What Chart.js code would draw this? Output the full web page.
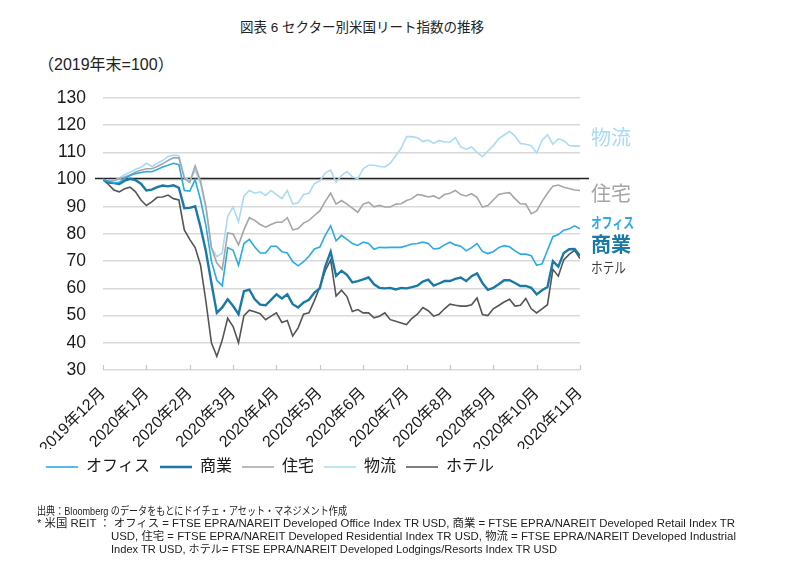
<!DOCTYPE html>
<html>
<head>
<meta charset="utf-8">
<script src="https://cdn.jsdelivr.net/npm/chart.js@4/dist/chart.umd.min.js"></script>
<style>
  html, body { margin: 0; padding: 0; background: #ffffff; }
  body { width: 800px; height: 578px; position: relative; overflow: hidden;
         font-family: "Liberation Sans", "Noto Sans CJK JP", sans-serif; color: #1a1a1a; }
  #c { position: absolute; left: 0; top: 0; }
  .txt { position: absolute; white-space: nowrap; }
  #title { left: 240px; top: 20px; font-size: 13.5px; line-height: 16px; color: #222; }
  #unit { left: 38px; top: 56px; font-size: 16px; line-height: 18px; color: #222; }
  .fn { font-family: "Liberation Sans Narrow", "Liberation Sans", "Noto Sans CJK JP", sans-serif;
        font-size: 11px; line-height: 13px; color: #222; transform-origin: 0 50%; }
</style>
</head>
<body>
<div id="title" class="txt">図表 6 セクター別米国リート指数の推移</div>
<div id="unit" class="txt">（2019年末=100）</div>
<canvas id="c" width="800" height="578"></canvas>
<div class="txt fn" data-w="310" style="left:37px; top:505px;">出典：Bloomberg のデータをもとにドイチェ・アセット・マネジメント作成</div>
<div class="txt fn" data-w="698" style="left:37px; top:517px;">* 米国 REIT ： オフィス = FTSE EPRA/NAREIT Developed Office Index TR USD, 商業 = FTSE EPRA/NAREIT Developed Retail Index TR</div>
<div class="txt fn" data-w="625" style="left:111px; top:530px;">USD, 住宅 = FTSE EPRA/NAREIT Developed Residential Index TR USD, 物流 = FTSE EPRA/NAREIT Developed Industrial</div>
<div class="txt fn" data-w="446" style="left:111px; top:543px;">Index TR USD, ホテル= FTSE EPRA/NAREIT Developed Lodgings/Resorts Index TR USD</div>
<script>
// ---- data (8 samples per month, 2019年12月末 = 100) ----
const monthLabels = ['2019年12月','2020年1月','2020年2月','2020年3月','2020年4月','2020年5月',
                     '2020年6月','2020年7月','2020年8月','2020年9月','2020年10月','2020年11月'];
const seriesNames = ['オフィス','商業','住宅','物流','ホテル'];

const office = [100,99.4,98.8,99.0,100.4,101.5,102.2,102.6,103.0,102.9,
  103.7,104.6,105.3,106.0,105.5,96.0,95.8,100.0,92.5,83.0,
  70.0,63.0,61.0,75.0,74.0,68.5,76.5,78.0,75.2,73.0,
  73.0,75.5,75.5,73.5,73.0,69.8,68.3,69.8,71.8,74.5,
  75.2,79.5,83.0,77.5,79.5,78.0,76.5,75.8,77.0,76.5,
  74.4,75.1,75.0,75.1,75.1,75.1,75.7,76.3,76.5,77.0,
  76.5,74.5,74.7,76.0,77.0,76.0,75.5,73.8,75.0,76.5,
  73.6,72.8,73.5,75.0,75.7,75.3,73.8,72.6,72.6,72.0,
  68.5,69.0,74.0,79.0,79.8,81.4,81.9,83.0,81.9];

const retail = [100,98.9,98.7,98.4,99.6,100.3,99.8,98.5,96.0,96.3,
  97.2,97.8,97.5,97.9,97.0,89.5,89.6,90.2,82.5,73.5,
  62.0,51.0,53.0,56.0,53.5,50.5,59.0,59.5,56.0,54.0,
  53.8,55.8,57.8,56.3,57.8,54.2,53.0,54.8,55.8,58.5,
  60.0,68.0,73.5,64.6,66.5,65.0,62.2,62.7,63.3,64.0,
  61.5,60.2,60.0,60.2,59.6,60.2,60.0,60.5,61.0,62.5,
  63.2,61.0,61.8,62.7,62.7,63.5,64.0,62.7,64.5,65.5,
  62.0,59.5,60.2,61.5,63.0,63.0,62.0,60.9,60.9,60.2,
  57.8,59.3,60.5,70.0,68.0,73.0,74.4,74.5,72.0];

const residential = [100,99.5,99.6,100.3,101.0,101.7,102.8,103.4,104.0,104.0,
  104.8,105.8,107.0,108.0,108.0,100.5,99.0,105.0,99.5,90.0,
  75.0,69.3,67.0,80.4,80.0,76.0,81.5,86.0,85.0,83.5,
  82.5,83.5,84.3,84.3,86.0,81.5,82.0,84.0,85.0,86.8,
  88.5,92.0,95.0,91.0,92.3,91.0,89.5,88.0,91.0,91.7,
  90.0,90.5,89.9,89.9,91.0,91.1,92.3,93.0,94.5,94.2,
  93.6,94.0,93.0,94.5,95.0,96.0,94.5,94.0,94.8,93.5,
  89.9,90.5,92.5,94.5,95.0,95.2,93.0,91.1,91.0,87.5,
  88.5,92.0,95.0,97.6,98.0,97.2,96.7,96.2,96.0];

const industrial = [100,99.8,99.7,100.6,101.8,102.7,103.8,104.5,106.0,104.8,
  106.0,107.0,108.5,109.0,108.8,101.0,99.5,103.5,98.5,89.5,
  75.0,71.7,73.0,86.5,90.0,84.5,94.0,96.0,95.0,95.5,
  94.2,96.0,94.5,93.0,96.0,91.0,91.5,94.5,95.0,98.5,
  99.5,102.5,103.5,99.0,101.5,103.0,101.0,100.3,104.0,105.3,
  105.3,104.8,104.7,106.0,108.8,111.5,115.8,115.8,115.4,114.0,
  114.5,113.3,114.4,113.8,113.8,115.4,112.0,111.2,112.0,110.0,
  108.4,110.5,112.5,115.0,116.4,117.7,116.0,113.3,113.0,112.5,
  109.8,114.5,116.5,113.0,115.0,114.3,112.5,112.3,112.3];

const hotel = [100,98.2,96.2,95.5,96.6,97.2,95.5,92.5,90.5,91.8,
  93.5,93.6,94.3,93.0,92.5,81.5,78.0,75.0,68.5,55.0,
  40.0,35.0,41.0,49.0,46.0,40.0,50.0,52.0,51.4,50.7,
  48.5,49.8,51.0,47.5,48.2,42.5,45.5,50.5,51.0,55.5,
  60.5,66.5,70.5,57.2,59.3,57.0,51.5,52.2,51.0,51.0,
  49.2,49.8,51.0,48.5,47.9,47.3,46.7,49.0,50.5,53.0,
  51.8,49.8,50.5,52.5,54.2,53.8,53.5,53.5,54.0,56.5,
  50.4,50.0,52.5,53.7,55.0,56.0,53.5,53.8,56.3,52.5,
  51.0,52.5,54.0,67.0,64.5,70.5,72.5,74.0,71.0];

const yTicks = [30,40,50,60,70,80,90,100,110,120,130];
const baseLine = 100;
const SAMPLES_PER_MONTH = 8;

// ---- styling ----
const colors = {
  office: '#2aabe3', retail: '#1b7aa5', residential: '#a6a6a6', industrial: '#a9dbf3', hotel: '#555555'
};
const FONT = '"Liberation Sans", "Noto Sans CJK JP", sans-serif';

function pts(arr) { return arr.map((v, i) => ({ x: i / SAMPLES_PER_MONTH, y: v })); }
function ds(label, arr, color, width) {
  return { label, data: pts(arr), borderColor: color, backgroundColor: color,
           borderWidth: width, pointRadius: 0, tension: 0, fill: false };
}

const extras = {
  id: 'extras',
  beforeDatasetsDraw(chart) {
    const { ctx, chartArea: a, scales: { y } } = chart;
    const py = Math.round(y.getPixelForValue(baseLine)) - 1.5;
    ctx.save();
    ctx.strokeStyle = '#222222';
    ctx.lineWidth = 1.3;
    ctx.beginPath();
    ctx.moveTo(a.left - 8, py);
    ctx.lineTo(a.right + 9, py);
    ctx.stroke();
    ctx.restore();
  },
  afterDraw(chart) {
    const { ctx, chartArea: a, scales: { x } } = chart;
    ctx.save();
    // small upward month ticks on the bottom axis line
    ctx.strokeStyle = '#c8c8c8';
    ctx.lineWidth = 1.2;
    for (let m = 0; m < monthLabels.length; m++) {
      const px = Math.round(x.getPixelForValue(m)) + 0.5;
      ctx.beginPath();
      ctx.moveTo(px, a.bottom);
      ctx.lineTo(px, a.bottom - 5);
      ctx.stroke();
    }
    // end-of-line series labels
    const lx = a.right + 11;
    ctx.textBaseline = 'middle';
    ctx.textAlign = 'left';
    const lab = [
      ['物流', colors.industrial, '20px', 137, 44],
      ['住宅', colors.residential, '20px', 193, 44],
      ['オフィス', colors.office, 'bold 15px', 222, 43],
      ['商業', colors.retail, 'bold 20px', 244, 42],
      ['ホテル', '#3c3c3c', '15px', 267, 35]
    ];
    lab.forEach(([t, c, f, yy, w]) => {
      ctx.fillStyle = c;
      ctx.font = f + ' "Noto Sans CJK JP", sans-serif';
      ctx.fillText(t, lx, yy, w);
    });
    ctx.restore();
  }
};

new Chart(document.getElementById('c'), {
  type: 'line',
  data: {
    datasets: [
      ds(seriesNames[0], office, colors.office, 1.6),
      ds(seriesNames[1], retail, colors.retail, 2.4),
      ds(seriesNames[2], residential, colors.residential, 1.6),
      ds(seriesNames[3], industrial, colors.industrial, 1.6),
      ds(seriesNames[4], hotel, colors.hotel, 1.6)
    ]
  },
  options: {
    responsive: false,
    animation: false,
    devicePixelRatio: 1,
    layout: { padding: { left: 36, top: 98, right: 220, bottom: 93 } },
    scales: {
      x: {
        type: 'linear', min: 0, max: monthLabels.length - 1,
        grid: { display: false },
        border: { display: false },
        ticks: {
          stepSize: 1, autoSkip: false, maxRotation: 45, minRotation: 45, padding: 6,
          color: '#1a1a1a', font: { size: 16, family: FONT },
          callback: (v) => monthLabels[v]
        },
        afterFit: (s) => { s.height = 79; }
      },
      y: {
        min: yTicks[0], max: yTicks[yTicks.length - 1],
        afterBuildTicks: (s) => { s.ticks = yTicks.map(v => ({ value: v })); },
        grid: { color: '#d9d9d9', lineWidth: 1.6, drawTicks: false },
        border: { display: false },
        ticks: { padding: 17, color: '#1a1a1a', font: { size: 17.5, family: FONT } },
        afterFit: (s) => { s.width = 67; }
      }
    },
    plugins: {
      legend: {
        position: 'bottom', align: 'start',
        labels: {
          usePointStyle: true, pointStyle: 'line', pointStyleWidth: 32,
          padding: 10, color: '#1a1a1a', font: { size: 16, family: FONT }
        }
      },
      tooltip: { enabled: false }
    }
  },
  plugins: [extras]
});

// fit footnote lines to their widths in the reference
document.querySelectorAll('.fn').forEach(el => {
  const w = el.getBoundingClientRect().width;
  const target = parseFloat(el.dataset.w);
  if (w > 0) el.style.transform = 'scaleX(' + (target / w).toFixed(4) + ')';
});
</script>
</body>
</html>
